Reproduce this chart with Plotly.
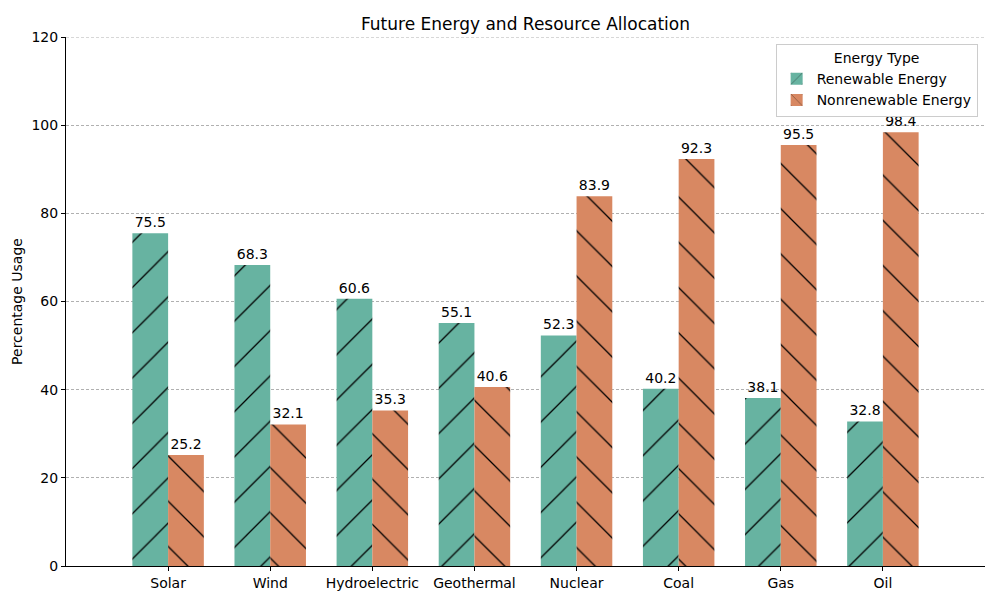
import plotly.graph_objects as go

categories = ["Solar", "Wind", "Hydroelectric", "Geothermal", "Nuclear", "Coal", "Gas", "Oil"]
renewable = [75.5, 68.3, 60.6, 55.1, 52.3, 40.2, 38.1, 32.8]
nonrenewable = [25.2, 32.1, 35.3, 40.6, 83.9, 92.3, 95.5, 98.4]
y_ticks = [0, 20, 40, 60, 80, 100, 120]

bar_w = 0.35
idx = list(range(len(categories)))

FONT = "DejaVu Sans"
c_ren = "#67b3a1"
c_non = "#d88862"
grid_c = "#b0b0b0"

W, H = 984, 584

fig = go.Figure()
fig.add_trace(go.Bar(
    x=[i - bar_w / 2 for i in idx], y=renewable, width=bar_w,
    name="Renewable Energy",
    marker=dict(color=c_ren, line=dict(width=0),
                pattern=dict(shape="/", fgcolor="black", bgcolor=c_ren, fillmode="overlay",
                             fgopacity=1, size=32, solidity=0.04)),
    text=[f"{v:.1f}" for v in renewable], textposition="outside",
    textfont=dict(family=FONT, size=14, color="black"), cliponaxis=False,
))
fig.add_trace(go.Bar(
    x=[i + bar_w / 2 for i in idx], y=nonrenewable, width=bar_w,
    name="Nonrenewable Energy",
    marker=dict(color=c_non, line=dict(width=0),
                pattern=dict(shape="\\", fgcolor="black", bgcolor=c_non, fillmode="overlay",
                             fgopacity=1, size=32, solidity=0.04)),
    text=[f"{v:.1f}" for v in nonrenewable], textposition="outside",
    textfont=dict(family=FONT, size=14, color="black"), cliponaxis=False,
))

# top gridline (at the axis edge, plotly skips it)
fig.add_shape(type="line", xref="paper", yref="y", x0=0, x1=1, y0=max(y_ticks), y1=max(y_ticks),
              line=dict(color=grid_c, width=1, dash="3px,2px"), layer="below")

fig.update_layout(
    width=W, height=H,
    margin=dict(l=58, r=7, t=29, b=26, autoexpand=False),
    paper_bgcolor="white", plot_bgcolor="white",
    font=dict(family=FONT, size=14, color="black"),
    title=dict(text="Future Energy and Resource Allocation", x=0.5, xanchor="center",
               xref="paper", y=1 - 16 / H, yanchor="middle", font=dict(size=17, family=FONT)),
    barmode="overlay",
    showlegend=True,
    legend=dict(title=dict(text="Energy Type", side="top center", font=dict(size=14)),
                x=0.992, y=0.987, xanchor="right", yanchor="top",
                bordercolor="#cccccc", borderwidth=1, bgcolor="white",
                font=dict(size=14), tracegroupgap=2),
)
fig.update_xaxes(
    range=[-1, 8], tickvals=idx, ticktext=categories, automargin=False,
    showline=True, linecolor="black", linewidth=1,
    ticks="outside", ticklen=4, tickcolor="black", showgrid=False, zeroline=False,
)
fig.update_yaxes(
    range=[0, 120], tickvals=y_ticks, automargin=False,
    title=dict(text="Percentage Usage", font=dict(size=14), standoff=5),
    showline=True, linecolor="black", linewidth=1,
    ticks="outside", ticklen=4, tickcolor="black",
    showgrid=True, gridcolor=grid_c, griddash="3px,2px", gridwidth=0.8, zeroline=False,
)

fig.write_html("out.html")
